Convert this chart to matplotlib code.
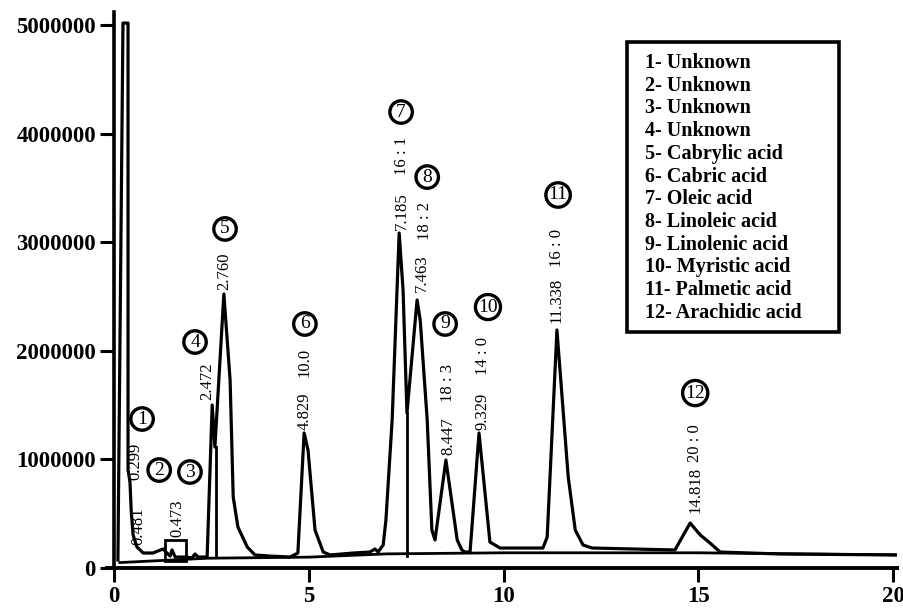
import matplotlib
matplotlib.use("Agg")
import matplotlib.pyplot as plt
from matplotlib.patches import Rectangle

# chromatogram trace (time in min, response)
time = [0.10, 0.23, 0.36, 0.36, 0.36, 0.41, 0.44, 0.49, 0.59, 0.75, 1.00, 1.13,
        1.26, 1.36, 1.44, 1.49, 1.57, 1.87, 2.00, 2.08, 2.16, 2.39, 2.52, 2.59,
        2.82, 2.98, 3.06, 3.18, 3.42, 3.62, 4.01, 4.52, 4.72, 4.88, 4.98, 5.16,
        5.37, 5.55, 6.14, 6.57, 6.70, 6.78, 6.91, 6.98, 7.14, 7.32, 7.42, 7.52,
        7.78, 7.86, 8.04, 8.16, 8.24, 8.52, 8.81, 8.93, 9.01, 9.14, 9.37, 9.65,
        9.91, 11.01, 11.12, 11.37, 11.66, 11.84, 12.04, 12.27, 14.40, 14.79,
        15.05, 15.30, 15.56, 17.10, 20.18]
response = [74000, 5018000, 5018000, 2468000, 902000, 792000, 534000, 304000,
            193000, 138000, 138000, 157000, 175000, 138000, 110000, 166000,
            101000, 101000, 92000, 129000, 101000, 101000, 1501000, 1114000,
            2523000, 1731000, 654000, 378000, 193000, 120000, 110000, 101000,
            138000, 1243000, 1087000, 350000, 147000, 120000, 138000, 147000,
            175000, 147000, 212000, 442000, 1363000, 3085000, 2560000, 1427000,
            2468000, 2284000, 1363000, 350000, 258000, 994000, 258000, 166000,
            147000, 147000, 1243000, 239000, 184000, 184000, 285000, 2192000,
            838000, 350000, 212000, 184000, 166000, 414000, 304000, 230000,
            147000, 129000, 120000]

# integration baseline and drop lines
base_time = [0.15, 2.4, 5.0, 7.0, 10.0, 15.0, 20.18]
base_resp = [50000, 90000, 100000, 130000, 140000, 140000, 120000]
drop_time = [2.62, 7.52]
drop_top = [1114000, 1427000]

# peak annotations
peak_no = ["1", "2", "3", "4", "5", "6", "7", "8", "9", "10", "11", "12"]
circle_x = [0.72, 1.16, 1.95, 2.08, 2.85, 4.90, 7.37, 8.04, 8.50, 9.60, 11.40, 14.92]
circle_y = [1372000, 902000, 884000, 2081000, 3122000, 2247000, 4199000,
            3600000, 2247000, 2403000, 3435000, 1611000]

rt_labels = ["0.299", "0.481", "0.473", "2.472", "2.760", "4.829", "7.185",
             "7.463", "8.447", "9.329", "11.338", "14.818"]
rt_x = [0.54, 0.62, 1.62, 2.39, 2.82, 4.90, 7.39, 7.91, 8.58, 9.47, 11.37, 14.92]
rt_y = [810000, 212000, 285000, 1547000, 2560000, 1271000, 3112000, 2541000,
        1040000, 1271000, 2256000, 506000]

fa_labels = ["10.0", "16 : 1", "18 : 2", "18 : 3", "14 : 0", "16 : 0", "20 : 0"]
fa_x = [4.90, 7.39, 7.98, 8.58, 9.47, 11.37, 14.92]
fa_y = [1759000, 3619000, 3020000, 1529000, 1777000, 2772000, 976000]

legend_items = ["1- Unknown", "2- Unknown", "3- Unknown", "4- Unknown",
                "5- Cabrylic acid", "6- Cabric acid", "7- Oleic acid",
                "8- Linoleic acid", "9- Linolenic acid", "10- Myristic acid",
                "11- Palmetic acid", "12- Arachidic acid"]

xticks = [0, 5, 10, 15, 20]
yticks = [0, 1000000, 2000000, 3000000, 4000000, 5000000]

serif = "Liberation Serif"
W, H = 904, 608

fig = plt.figure(figsize=(W / 100, H / 100), dpi=100)
ax = fig.add_axes([107 / W, 40 / H, 790 / W, 556 / H])

ax.plot(time, response, color="black", lw=2.3, solid_joinstyle="round")
ax.plot(base_time, base_resp, color="black", lw=2.0)
for t, top in zip(drop_time, drop_top):
    ax.plot([t, t], [110000, top], color="black", lw=2.0)

# small boxed peak
ax.add_patch(Rectangle((1.31, 64000), 0.53, 195000, fill=False, lw=2.0, ec="black"))

for n, x, y in zip(peak_no, circle_x, circle_y):
    ax.text(x, y, n, ha="center", va="center", fontsize=14, family=serif,
            bbox=dict(boxstyle="circle,pad=0.14", fc="none", ec="black", lw=2.4))
for s, x, y in zip(rt_labels, rt_x, rt_y):
    ax.text(x, y, s, rotation=90, ha="center", va="bottom", fontsize=12, family=serif)
for s, x, y in zip(fa_labels, fa_x, fa_y):
    ax.text(x, y, s, rotation=90, ha="center", va="bottom", fontsize=12, family=serif)

ax.set_xlim(-0.18, 20.1)
ax.set_ylim(0, 5120000)
ax.spines["top"].set_visible(False)
ax.spines["right"].set_visible(False)
ax.spines["left"].set_position(("data", 0))
ax.spines["left"].set_linewidth(2.6)
ax.spines["bottom"].set_linewidth(2.8)
ax.set_xticks(xticks)
ax.set_xticklabels([str(v) for v in xticks])
ax.set_yticks(yticks)
ax.set_yticklabels([str(v) for v in yticks])
ax.tick_params(direction="out", length=10, width=2.2, pad=3, labelsize=16.5)
for lab in ax.get_xticklabels() + ax.get_yticklabels():
    lab.set_family(serif)
    lab.set_fontweight("bold")

# legend box
fig.patches.append(Rectangle((627 / W, 1 - 332 / H), 212 / W, 290 / H,
                             transform=fig.transFigure, fill=False, lw=2.6, ec="black"))
for i, s in enumerate(legend_items):
    fig.text(645 / W, 1 - (63 + i * 22.7) / H, s, ha="left", va="center",
             fontsize=14.5, fontweight="bold", family=serif)

fig.savefig("out.png", dpi=100)
